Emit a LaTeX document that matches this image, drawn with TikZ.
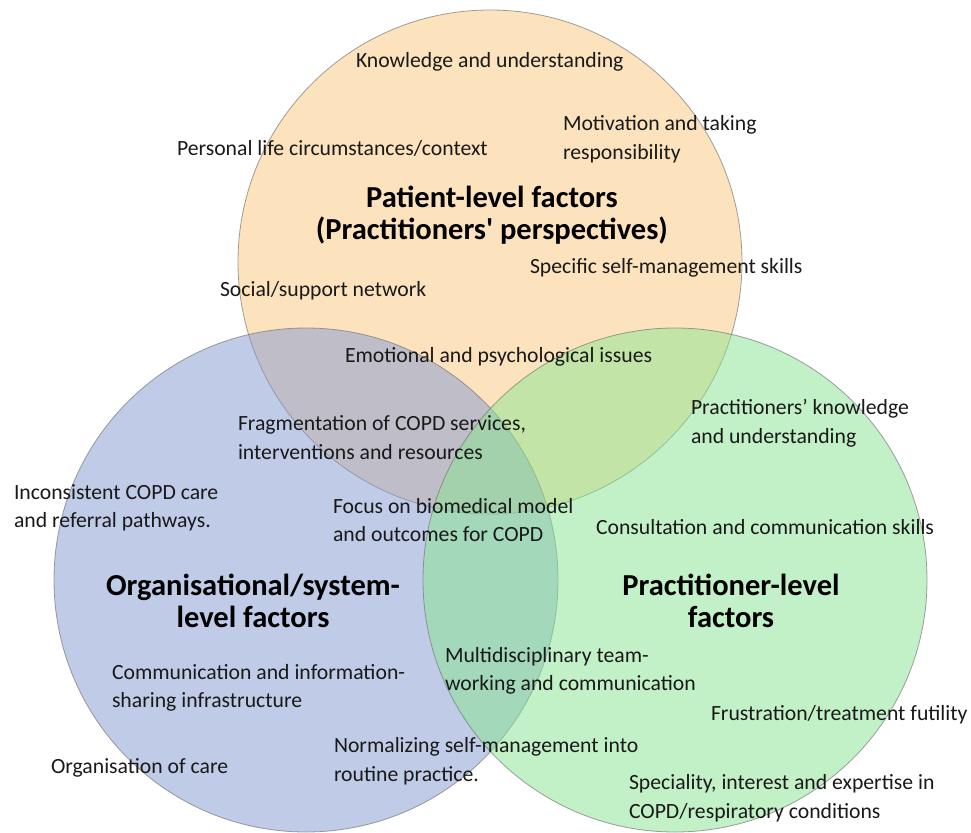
\documentclass[tikz,border=0pt]{standalone}
\usepackage{fontspec}
\setmainfont{Carlito}
\definecolor{orangebase}{RGB}{253,201,125}
\definecolor{bluebase}{RGB}{131,153,209}
\definecolor{greenbase}{RGB}{137,229,145}
\definecolor{edgegray}{RGB}{120,120,120}
\begin{document}
\begin{tikzpicture}[x=1pt,y=-1pt]
\tikzset{
  venn/.style={fill opacity=0.5, draw=edgegray, draw opacity=0.7, line width=0.8pt},
  item/.style={font=\fontsize{21.7}{28.5}\selectfont, text=black!90, align=left, anchor=west, inner sep=0pt, outer sep=0pt},
  vtitle/.style={font=\bfseries\fontsize{30.5}{32}\selectfont, text=black, align=center, anchor=center, inner sep=0pt}
}
\useasboundingbox (0,0) rectangle (971,832);
\fill[white] (0,0) rectangle (971,832);
% circles
\draw[venn, fill=orangebase] (490,262) circle[radius=252];
\draw[venn, fill=bluebase] (306,580) circle[radius=252];
\draw[venn, fill=greenbase] (675,580) circle[radius=252];
% titles
\node[vtitle] (tpatient) at (492,215) {Patient-level factors\\(Practitioners\textquotesingle\ perspectives)};
\node[vtitle] (torg) at (253,601) {Organisational/system-\\level factors};
\node[vtitle] (tprac) at (731,601) {Practitioner-level\\factors};
% items
\node[item] (knowledge) at (356,62) {Knowledge and understanding};
\node[item] (motivation) at (563,139) {Motivation and taking\\responsibility};
\node[item] (personal) at (177,148) {Personal life circumstances/context};
\node[item] (specific) at (530,268) {Specific self-management skills};
\node[item] (social) at (220,291) {Social/support network};
\node[item] (emotional) at (345,357) {Emotional and psychological issues};
\node[item] (fragment) at (238,437.5) {Fragmentation of COPD services,\\interventions and resources};
\node[item] (pknow) at (691,423) {Practitioners’ knowledge\\and understanding};
\node[item] (inconsistent) at (14,508) {Inconsistent COPD care\\and referral pathways.};
\node[item] (focus) at (333,520) {Focus on biomedical model\\and outcomes for COPD};
\node[item] (consult) at (596,527) {Consultation and communication skills};
\node[item] (multi) at (445,671) {Multidisciplinary team-\\working and communication};
\node[item] (commun) at (112,688) {Communication and information-\\sharing infrastructure};
\node[item] (frustr) at (711,715) {Frustration/treatment futility};
\node[item] (normal) at (334,761) {Normalizing self-management into\\routine practice.};
\node[item] (orgcare) at (51,768) {Organisation of care};
\node[item] (special) at (629,798) {Speciality, interest and expertise in\\COPD/respiratory conditions};
\end{tikzpicture}
\end{document}
